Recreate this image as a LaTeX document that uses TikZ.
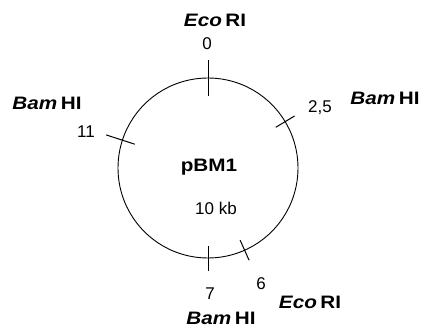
\documentclass[tikz,border=0pt]{standalone}
\usepackage{fontspec}
\setmainfont{Liberation Sans}
\begin{document}
\begin{tikzpicture}[x=1pt,y=1pt,
  enzyme/.style={inner sep=0pt, xscale=1.15, font=\fontsize{18}{21}\selectfont\bfseries},
  coordlabel/.style={inner sep=0pt, font=\fontsize{17}{20}\selectfont},
  site/.style={line width=1pt, black},
  ring/.style={draw, circle, line width=0.9pt, minimum size=180pt, inner sep=0pt}]
\useasboundingbox (0,0) rectangle (423,327);
\node[ring] (plasmid) at (208,159) {};
% ticks
\draw[site] ([shift={(90:72)}]plasmid.center) -- ([shift={(90:108)}]plasmid.center);
\draw[site] ([shift={(31:79)}]plasmid.center) -- ([shift={(31:101)}]plasmid.center);
\draw[site] ([shift={(162:77)}]plasmid.center) -- ([shift={(162:107)}]plasmid.center);
\draw[site] ([shift={(270:78)}]plasmid.center) -- ([shift={(270:103)}]plasmid.center);
\draw[site] ([shift={(-66:79)}]plasmid.center) -- ([shift={(-66:101)}]plasmid.center);
% labels
\node[enzyme] (e1) at (215,307) {\textit{Eco}\,RI};
\node[coordlabel] (p0) at (207,283) {0};
\node[coordlabel] (p25) at (320,219) {2,5};
\node[enzyme] (b1) at (385,229) {\textit{Bam}\,HI};
\node[enzyme] (b2) at (47,224) {\textit{Bam}\,HI};
\node[coordlabel] (p11) at (86,195) {11};
\node[coordlabel] (p7) at (210,33) {7};
\node[coordlabel] (p6) at (261,43) {6};
\node[enzyme] (e2) at (310,25) {\textit{Eco}\,RI};
\node[enzyme] (b3) at (221,9) {\textit{Bam}\,HI};
\node[enzyme] (name) at (209,160) {pBM1};
\node[coordlabel] (size) at (216,119) {10 kb};
\end{tikzpicture}
\end{document}
